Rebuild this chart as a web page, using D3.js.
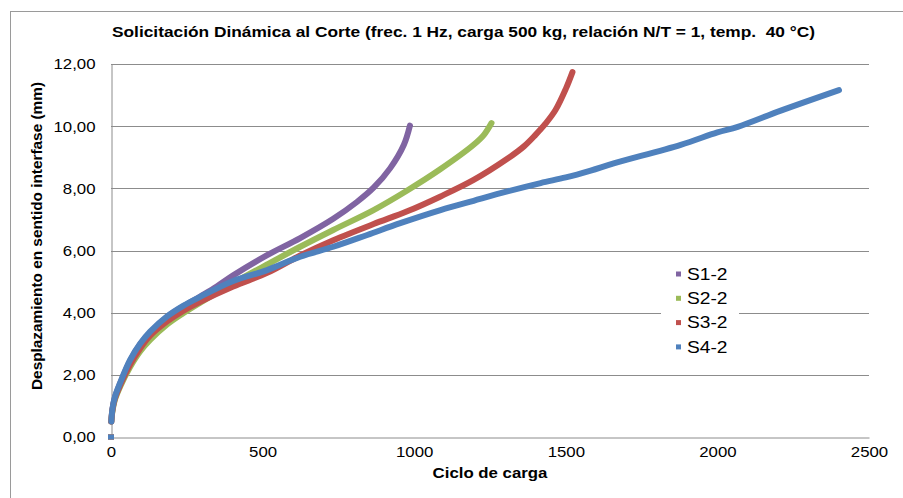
<!DOCTYPE html>
<html>
<head>
<meta charset="utf-8">
<script src="https://cdn.jsdelivr.net/npm/d3@7"></script>
<style>
  body { margin: 0; background: #fff; }
  svg { display: block; }
  text { white-space: pre; }
</style>
</head>
<body>
<div id="chartContainer"></div>
<script>
// Series: [ciclo, desplazamiento mm]
const seriesNames = ["S1-2", "S2-2", "S3-2", "S4-2"];
const seriesColors = ["#8064A2", "#9BBB59", "#C0504D", "#4F81BD"];

const s1 = [[0,0],[1,0.5],[5,0.9],[13,1.28],[30,1.72],[63,2.45],[96,2.98],[129,3.35],[185,3.86],[238,4.2],[294,4.52],[350,4.85],[403,5.2],[515,5.85],[624,6.4],[733,7.02],[811,7.56],[866,8.02],[921,8.65],[966,9.4],[986,10.02]];
const s2 = [[0,0],[1,0.5],[5,0.85],[13,1.2],[30,1.62],[63,2.25],[96,2.75],[129,3.12],[185,3.62],[238,3.98],[294,4.32],[403,4.95],[515,5.55],[624,6.12],[733,6.66],[866,7.3],[977,7.93],[1087,8.62],[1196,9.4],[1230,9.72],[1255,10.1]];
const s3 = [[0,0],[1,0.5],[5,0.88],[13,1.24],[30,1.66],[63,2.33],[96,2.85],[129,3.26],[185,3.72],[238,4.06],[294,4.35],[403,4.84],[515,5.28],[624,5.84],[733,6.33],[866,6.85],[977,7.26],[1087,7.74],[1196,8.27],[1307,8.95],[1362,9.35],[1400,9.72],[1433,10.08],[1466,10.52],[1500,11.2],[1522,11.74]];
const s4 = [[0,0],[1,0.5],[5,0.92],[13,1.29],[30,1.74],[63,2.48],[96,3.0],[129,3.39],[185,3.88],[238,4.22],[294,4.51],[403,5.02],[515,5.37],[624,5.8],[733,6.12],[845,6.5],[954,6.88],[1087,7.3],[1196,7.6],[1307,7.9],[1417,8.17],[1500,8.35],[1582,8.57],[1658,8.8],[1879,9.4],[2000,9.8],[2067,9.98],[2209,10.5],[2401,11.16]];
const seriesValues = [s1, s2, s3, s4];

const xTicks = [0, 500, 1000, 1500, 2000, 2500];
const yTicks = [0, 2, 4, 6, 8, 10, 12];

const titleText = "Solicitación Dinámica al Corte (frec. 1 Hz, carga 500 kg, relación N/T = 1, temp.  40 °C)";
const xTitle = "Ciclo de carga";
const yTitle = "Desplazamiento en sentido interfase (mm)";

function createChart() {
    const width = 903;
    const height = 498;
    const marginLeft = 111;
    const marginRight = 34;
    const marginTop = 64;
    const marginBottom = 61;
    const stretch = 1.2; // the picture is a little wide

    const x = d3.scaleLinear()
        .domain([0, 2500])
        .range([marginLeft, width - marginRight]);

    const y = d3.scaleLinear()
        .domain([0, 12])
        .range([height - marginBottom, marginTop]);

    const svg = d3.create("svg")
        .attr("viewBox", [0, 0, width, height])
        .attr("width", width)
        .attr("height", height)
        .style("font-family", "'Liberation Sans', Arial, sans-serif");

    // outer chart border
    svg.append("rect")
        .attr("x", 10.5).attr("y", 11.5)
        .attr("width", 920).attr("height", 520)
        .attr("fill", "#fff")
        .attr("stroke", "#9a9a9a");

    // gridlines
    svg.append("g")
        .selectAll("line")
        .data(yTicks.filter(d => d > 0))
        .join("line")
        .attr("x1", x(0)).attr("x2", x(2500))
        .attr("y1", d => Math.round(y(d)) + 0.5)
        .attr("y2", d => Math.round(y(d)) + 0.5)
        .attr("stroke", "#8c8c8c");

    const fmt = d => d3.format(".2f")(d).replace(".", ",");

    // y axis
    svg.append("g")
        .attr("transform", `translate(${x(0) + 0.5},0)`)
        .call(d3.axisLeft(y).tickValues(yTicks).tickFormat(fmt).tickSize(0).tickPadding(0))
        .call(g => g.select(".domain").attr("stroke", "#8c8c8c"))
        .call(g => g.selectAll("text")
            .attr("x", -16 / stretch)
            .attr("dy", "0.35em")
            .attr("transform", `scale(${stretch},1)`)
            .attr("font-size", 14)
            .attr("font-family", "'Liberation Sans', Arial, sans-serif")
            .attr("fill", "#000"));

    // x axis
    svg.append("g")
        .attr("transform", `translate(0,${y(0) + 0.5})`)
        .call(d3.axisBottom(x).tickValues(xTicks).tickFormat(d3.format("d")).tickSize(0).tickPadding(10))
        .call(g => g.select(".domain").attr("stroke", "#8c8c8c"))
        .call(g => g.selectAll("text")
            .attr("transform", `scale(${stretch},1)`)
            .attr("font-size", 14)
            .attr("font-family", "'Liberation Sans', Arial, sans-serif")
            .attr("fill", "#000"));

    // curves
    const line = d3.line()
        .x(d => x(d[0]))
        .y(d => y(d[1]))
        .curve(d3.curveCatmullRom.alpha(0.5));

    seriesValues.forEach((vals, i) => {
        svg.append("path")
            .attr("d", line(vals.slice(1)))
            .attr("fill", "none")
            .attr("stroke", seriesColors[i])
            .attr("stroke-width", 6)
            .attr("stroke-linecap", "round")
            .attr("stroke-linejoin", "round");
        svg.append("rect")
            .attr("x", x(vals[0][0]) - 3)
            .attr("y", y(vals[0][1]) - 2.5)
            .attr("width", 6).attr("height", 5)
            .attr("fill", seriesColors[i]);
    });

    // title
    svg.append("text")
        .attr("x", 463.5).attr("y", 37)
        .attr("text-anchor", "middle")
        .attr("font-family", "'Liberation Sans Narrow', 'Arial Narrow', 'Liberation Sans', sans-serif")
        .attr("font-weight", "bold")
        .attr("font-size", 14)
        .attr("textLength", 703)
        .attr("lengthAdjust", "spacingAndGlyphs")
        .text(titleText);

    // x title
    svg.append("text")
        .attr("transform", `translate(${(x(0) + x(2500)) / 2},478) scale(${stretch},1)`)
        .attr("text-anchor", "middle")
        .attr("font-weight", "bold")
        .attr("font-size", 14)
        .text(xTitle);

    // y title
    svg.append("text")
        .attr("transform", "translate(42,236) rotate(-90)")
        .attr("text-anchor", "middle")
        .attr("font-family", "'Liberation Sans Narrow', 'Arial Narrow', 'Liberation Sans', sans-serif")
        .attr("font-weight", "bold")
        .attr("font-size", 14)
        .attr("textLength", 308)
        .attr("lengthAdjust", "spacingAndGlyphs")
        .text(yTitle);

    // legend
    const legend = svg.append("g");
    legend.append("rect")
        .attr("x", 661).attr("y", 258)
        .attr("width", 78).attr("height", 102)
        .attr("fill", "#fff");
    const rows = legend.selectAll("g")
        .data(seriesNames)
        .join("g")
        .attr("transform", (d, i) => `translate(676,${274 + i * 24.3})`);
    rows.append("rect")
        .attr("x", 0).attr("y", -2.5)
        .attr("width", 5).attr("height", 5)
        .attr("fill", (d, i) => seriesColors[i]);
    rows.append("text")
        .attr("transform", `translate(11,5.8) scale(${stretch},1)`)
        .attr("font-size", 16)
        .attr("fill", "#000")
        .text(d => d);

    return svg.node();
}

document.getElementById("chartContainer").appendChild(createChart());
</script>
</body>
</html>
